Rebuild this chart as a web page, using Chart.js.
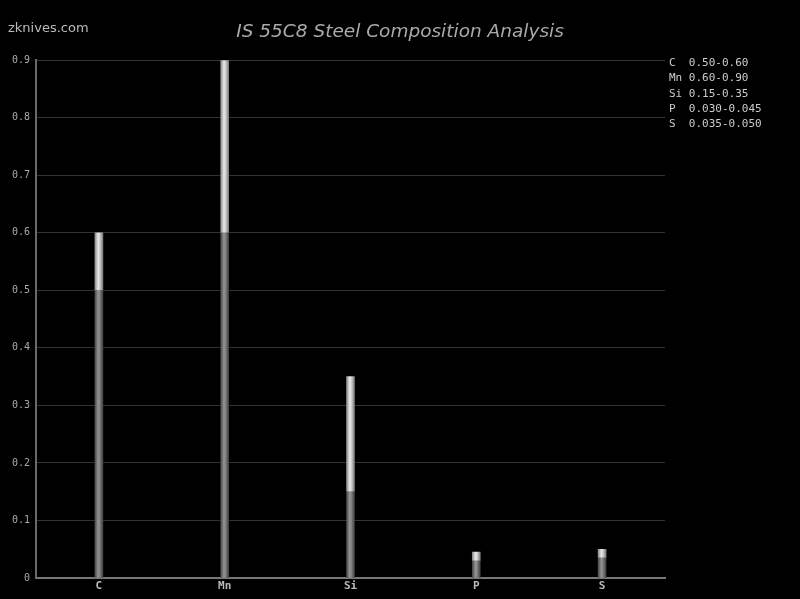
<!DOCTYPE html>
<html>
<head>
<meta charset="utf-8">
<title>IS 55C8 Steel Composition Analysis</title>
<script src="https://cdn.jsdelivr.net/npm/chart.js@4.4.1/dist/chart.umd.min.js"></script>
<style>
  body { margin: 0; background: #000; }
  #wrap { position: relative; width: 800px; height: 599px; }
  #site { position: absolute; left: 8px; top: 20px; font: 13px "DejaVu Sans"; color: #bbb; }
  #ranges { position: absolute; left: 669px; top: 55px; font: 11px "DejaVu Sans Mono"; color: #ccc; line-height: 15.3px; white-space: pre; }
</style>
</head>
<body>
<div id="wrap">
  <canvas id="steelChart"></canvas>
  <div id="site">zknives.com</div>
  <div id="ranges"></div>
</div>
<script>
// Composition ranges, % by weight
const elements = ['C', 'Mn', 'Si', 'P', 'S'];
const minValues = [0.50, 0.60, 0.15, 0.030, 0.035];
const maxValues = [0.60, 0.90, 0.35, 0.045, 0.050];
const decimals = [2, 2, 2, 3, 3];
const yTicks = [0, 0.1, 0.2, 0.3, 0.4, 0.5, 0.6, 0.7, 0.8, 0.9];

// Range list on the right
document.getElementById('ranges').textContent = elements.map(function(el, i) {
    return (el + '  ').slice(0, 3) + minValues[i].toFixed(decimals[i]) + '-' + maxValues[i].toFixed(decimals[i]);
}).join('\n');

// Cylinder-like horizontal gradient for each bar
function barShade(stops, flat) {
    return function(ctx) {
        const chart = ctx.chart;
        const xScale = chart.scales && chart.scales.x;
        if (ctx.type !== 'data' || !xScale) return flat;
        const cx = xScale.getPixelForValue(ctx.dataIndex);
        if (!isFinite(cx)) return flat;
        const g = chart.ctx.createLinearGradient(cx - 4, 0, cx + 4, 0);
        stops.forEach(function(s) { g.addColorStop(s[0], s[1]); });
        return g;
    };
}

const lowerStops = [[0, '#484848'], [0.4, '#949494'], [0.6, '#828282'], [1, '#404040']];
const upperStops = [[0, '#8a8a8a'], [0.4, '#e8e8e8'], [0.6, '#d2d2d2'], [1, '#7c7c7c']];

const ctx = document.getElementById('steelChart');
new Chart(ctx, {
    type: 'bar',
    data: {
        labels: elements,
        datasets: [
            {
                label: 'Min',
                data: minValues.map(function(v) { return [0, v]; }),
                backgroundColor: barShade(lowerStops, '#777'),
                borderWidth: 0,
                barThickness: 8
            },
            {
                label: 'Max',
                data: minValues.map(function(v, i) { return [v, maxValues[i]]; }),
                backgroundColor: barShade(upperStops, '#ccc'),
                borderWidth: 0,
                barThickness: 8
            }
        ]
    },
    options: {
        responsive: true,
        maintainAspectRatio: false,
        animation: false,
        plugins: {
            legend: { display: false },
            tooltip: { enabled: false },
            title: {
                display: true,
                text: 'IS 55C8 Steel Composition Analysis',
                color: '#aaa',
                font: { family: 'DejaVu Sans', size: 18.5, style: 'italic', weight: 'normal' },
                padding: { top: 21, bottom: 17 }
            }
        },
        scales: {
            x: {
                stacked: true,
                grid: { display: false, drawTicks: false },
                border: { color: '#777', width: 2 },
                ticks: {
                    color: '#bbb',
                    padding: 2,
                    font: { family: 'DejaVu Sans Mono', size: 11, weight: 'bold' }
                },
                afterFit: function(scale) { scale.height = 21; }
            },
            y: {
                min: 0,
                max: 0.9,
                afterBuildTicks: function(scale) {
                    scale.ticks = yTicks.map(function(v) { return { value: v }; });
                },
                grid: { color: '#333', drawTicks: false },
                border: { color: '#6a6a6a', width: 2 },
                ticks: {
                    color: '#aaa',
                    padding: 6,
                    font: { family: 'DejaVu Sans Mono', size: 10 }
                },
                afterFit: function(scale) { scale.width = 36; }
            },
            // empty right-hand strip that leaves room for the range list
            side: {
                position: 'right',
                grid: { display: false, drawTicks: false },
                border: { display: false },
                ticks: { display: false },
                afterFit: function(scale) { scale.width = 135; }
            }
        }
    }
});
</script>
</body>
</html>
